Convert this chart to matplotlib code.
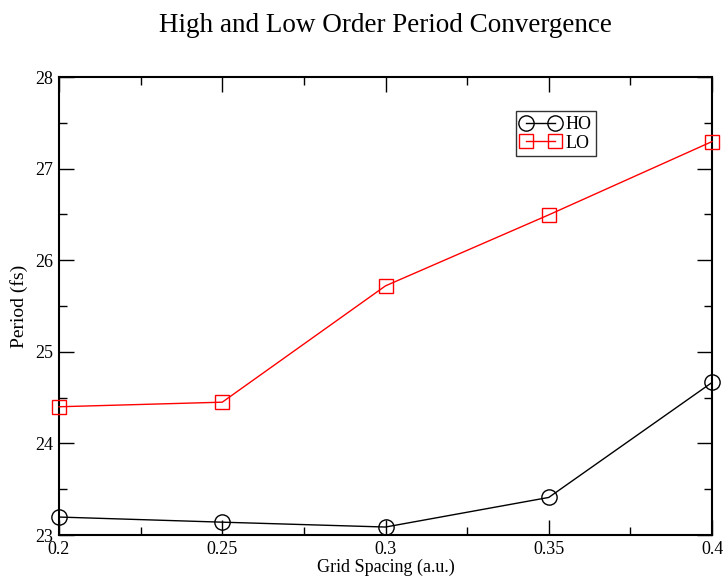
import matplotlib.pyplot as plt
from matplotlib.ticker import MultipleLocator

# Grid spacing (a.u.) and period (fs) for both orders
spacing = [0.2, 0.25, 0.3, 0.35, 0.4]
period_ho = [23.196, 23.14, 23.087, 23.41, 24.665]
period_lo = [24.40, 24.45, 25.72, 26.495, 27.295]
tick_labels = ['0.2', '0.25', '0.3', '0.35', '0.4']

plt.rcParams['font.family'] = ['Liberation Serif', 'DejaVu Serif']

fig = plt.figure(figsize=(7.25, 5.8), dpi=100)
ax = fig.add_axes([59 / 725, 1 - 535 / 580, (712 - 59) / 725, (535 - 77) / 580])

ax.plot(spacing, period_ho, color='black', lw=1, marker='o', ms=11,
        mfc='none', mec='black', mew=1, label='HO', clip_on=False, zorder=3)
ax.plot(spacing, period_lo, color='red', lw=1, marker='s', ms=9.5,
        mfc='none', mec='red', mew=1, label='LO', clip_on=False, zorder=3)

ax.set_xlim(0.2, 0.4)
ax.set_ylim(23, 28)
ax.xaxis.set_minor_locator(MultipleLocator(0.025))
ax.yaxis.set_major_locator(MultipleLocator(1))
ax.yaxis.set_minor_locator(MultipleLocator(0.5))
ax.set_xticks(spacing, tick_labels)

ax.tick_params(which='both', direction='in', top=True, right=True,
               labelsize=13, width=1)
ax.tick_params(which='major', length=11, pad=4)
ax.tick_params(which='minor', length=6)
for s in ax.spines.values():
    s.set_linewidth(1.5)

ax.set_xlabel('Grid Spacing (a.u.)', fontsize=13, labelpad=1)
ax.set_ylabel('Period (fs)', fontsize=14, labelpad=5)
fig.text((59 + 712) / 2 / 725, 1 - 26 / 580,
         'High and Low Order Period Convergence',
         fontsize=19.5, ha='center', va='center')

leg = ax.legend(loc='upper left', bbox_to_anchor=(0.70, 0.925), numpoints=2,
                fontsize=13, frameon=True, fancybox=False, edgecolor='black',
                handlelength=2.2, handletextpad=0.3, borderpad=0.25,
                labelspacing=0.1, borderaxespad=0)
leg.get_frame().set_linewidth(1)

fig.savefig('out.png', dpi=100)
